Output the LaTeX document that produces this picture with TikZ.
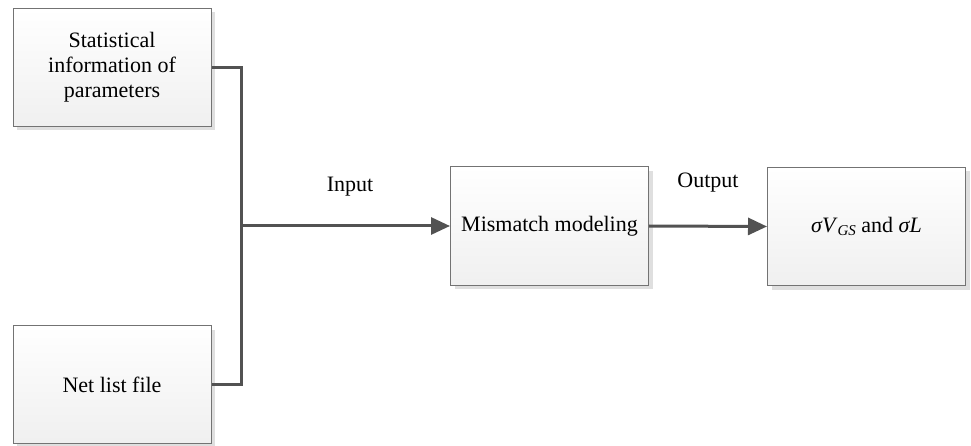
\documentclass[tikz,border=0pt]{standalone}
\usepackage{fontspec}
\setmainfont{Liberation Serif}
\usetikzlibrary{arrows.meta,shadows}
\begin{document}
\begin{tikzpicture}[x=1pt,y=-1pt,
  blk/.style={draw=black!55, line width=1pt, top color=white, bottom color=black!6,
    minimum width=198pt, minimum height=118pt, inner sep=0pt, align=center,
    font=\fontsize{22}{25}\selectfont,
    drop shadow={shadow xshift=4pt, shadow yshift=-4pt, fill=black!25, opacity=0.5}},
  conn/.style={draw=black!68, line width=3pt},
  arr/.style={conn, -{Triangle[length=19pt,width=17pt]}},
  lbl/.style={font=\fontsize{22}{25}\selectfont, inner sep=0pt}]
\useasboundingbox (0,0) rectangle (971,446);
\node[blk] (stat) at (112,67.5) {Statistical\\information of\\parameters};
\node[blk] (net) at (112,384.5) {Net list file};
\node[blk] (mis) at (549.5,226) {Mismatch modeling};
\node[blk] (res) at (866.5,226.5) {\textit{σV}\raisebox{-0.3ex}{\fontsize{15}{15}\selectfont\textit{GS}} and \textit{σL}};
\coordinate (j) at (241,226);
\draw[conn] (stat.east) -| (j) |- (net.east);
\draw[arr] (j) -- (mis.west);
\draw[arr] (mis.east) -- (res.west);
\node[lbl] (in) at (350,187) {Input};
\node[lbl] (out) at (708,183) {Output};
\end{tikzpicture}
\end{document}
